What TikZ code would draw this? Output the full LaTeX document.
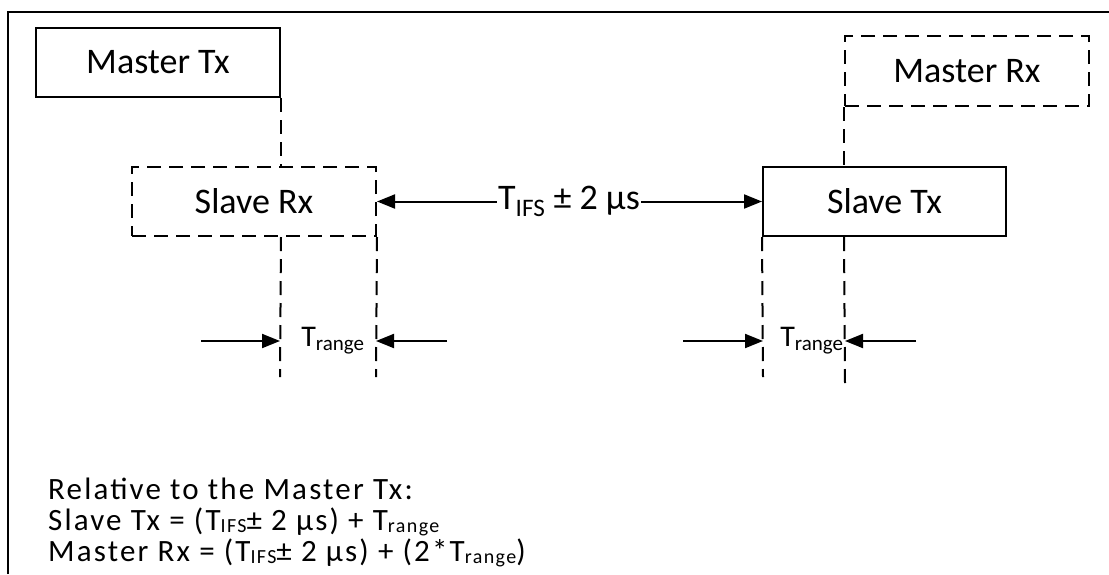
\documentclass[tikz,border=0pt]{standalone}
\usepackage{fontspec}
\setmainfont{Carlito}
\usetikzlibrary{arrows.meta}
\newcommand\sbx[1]{\textsubscript{#1}}
\newfontfamily\notefont[LetterSpace=7]{Carlito}
\newcommand\nsub[1]{\raisebox{-2.5pt}{\fontsize{20}{20}\selectfont #1}}
\begin{document}
\begin{tikzpicture}[x=1pt,y=-1pt,
  boxlabel/.style={font=\fontsize{36}{40}\selectfont, inner sep=0pt, minimum width=244pt, minimum height=69pt},
  solidbox/.style={boxlabel, draw, line width=2pt},
  dashbox/.style={boxlabel, draw, line width=2pt, dash pattern=on 14pt off 8pt},
  dashline/.style={line width=2pt, dash pattern=on 14pt off 8pt},
  arr/.style={line width=2pt, -{Triangle[length=18pt,width=14pt]}},
  smalllabel/.style={font=\fontsize{30}{34}\selectfont, inner sep=1pt},
  note/.style={font=\notefont\fontsize{31}{32}\selectfont, anchor=base west, inner sep=0pt, text height=20pt, text depth=5pt}]
\useasboundingbox (0,0) rectangle (1109,574);
\draw[line width=2.5pt] (8,574) -- (8,12) -- (1109,12);

\node[solidbox] (mtx) at (158,62.5) {Master Tx};
\node[dashbox]  (srx) at (254,201.5) {Slave Rx};
\node[dashbox, minimum height=70pt] (mrx) at (967,71) {Master Rx};
\node[solidbox, minimum width=243pt] (stx) at (884.5,201.5) {Slave Tx};

% vertical guide lines
\coordinate (g1) at (280,377);
\coordinate (g2) at (376,377);
\coordinate (g3) at (763,377);
\coordinate (g4) at (845,383);
\draw[dashline] (mtx.south east) -- (mtx.south east |- srx.north);
\draw[dashline] (mtx.south east |- srx.south) -- (g1);
\draw[dashline] (srx.south east) -- (g2);
\draw[dashline] (stx.south west) -- (g3);
\draw[dashline] (mrx.south west) -- (mrx.south west |- stx.north);
\draw[dashline] (mrx.south west |- stx.south) -- (g4);

% T_IFS arrow
\node[font=\fontsize{36}{40}\selectfont, fill=white, inner sep=1pt] (ifs) at (569,201.5) {T\sbx{IFS} ± 2 µs};
\draw[arr] (ifs) -- (srx.east);
\draw[arr] (ifs) -- (stx.west);

% T_range left
\node[smalllabel] (tr1) at (333,341) {T\sbx{range}};
\coordinate (a1) at (201,341);
\coordinate (a2) at (447,341);
\draw[arr] (a1) -- (a1 -| g1);
\draw[arr] (a2) -- (a2 -| g2);

% T_range right
\node[smalllabel] (tr2) at (812,341) {T\sbx{range}};
\coordinate (a3) at (683,341);
\coordinate (a4) at (916,341);
\draw[arr] (a3) -- (a3 -| g3);
\draw[arr] (a4) -- (a4 -| g4);

% notes
\node[note] (n1) at (48,499) {Relative to the Master Tx:};
\node[note] (n2) at (48,530) {Slave Tx = (T\nsub{IFS}± 2 µs) + T\nsub{range}};
\node[note] (n3) at (48,561) {Master Rx = (T\nsub{IFS}± 2 µs) + (2*T\nsub{range})};
\end{tikzpicture}
\end{document}
